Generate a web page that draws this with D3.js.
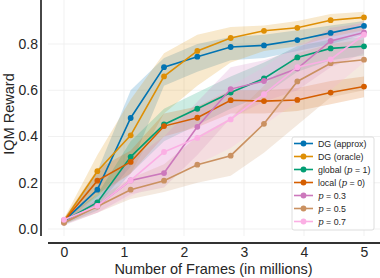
<!DOCTYPE html>
<html><head><meta charset="utf-8">
<script src="https://cdn.jsdelivr.net/npm/d3@7"></script>
<style>body{margin:0;background:#fff}svg{display:block}text{font-family:"Liberation Sans",Arial,sans-serif;fill:#262626}</style>
</head><body><svg id="c" width="380" height="278"></svg>
<script>
const frames = [0, 0.556, 1.111, 1.667, 2.222, 2.778, 3.333, 3.889, 4.444, 5.0];
const xTicks = [0, 1, 2, 3, 4, 5];
const yTicks = [0.0, 0.2, 0.4, 0.6, 0.8];
const names = ["DG (approx)", "DG (oracle)", "global", "local", "p03", "p05", "p07"];
const colors = ["#0173b2", "#de8f05", "#029e73", "#d55e00", "#cc78bc", "#ca9161", "#fbafe4"];
const dgApprox = [0.035, 0.17, 0.48, 0.70, 0.745, 0.787, 0.794, 0.817, 0.848, 0.878];
const dgOracle = [0.035, 0.25, 0.405, 0.66, 0.77, 0.826, 0.857, 0.87, 0.903, 0.915];
const globalP1 = [0.035, 0.115, 0.312, 0.452, 0.52, 0.59, 0.651, 0.742, 0.781, 0.79];
const localP0 = [0.035, 0.209, 0.29, 0.445, 0.481, 0.557, 0.553, 0.558, 0.59, 0.616];
const p03 = [0.028, 0.10, 0.21, 0.242, 0.442, 0.605, 0.64, 0.694, 0.813, 0.85];
const p05 = [0.027, 0.097, 0.17, 0.209, 0.278, 0.317, 0.455, 0.638, 0.717, 0.732];
const p07 = [0.04, 0.10, 0.21, 0.333, 0.394, 0.474, 0.583, 0.70, 0.733, 0.84];
const dgApproxLo = [0.02, 0.10, 0.27, 0.62, 0.68, 0.73, 0.74, 0.77, 0.80, 0.84];
const dgApproxHi = [0.045, 0.25, 0.60, 0.74, 0.80, 0.83, 0.84, 0.86, 0.88, 0.90];
const dgOracleLo = [0.02, 0.14, 0.24, 0.50, 0.62, 0.72, 0.77, 0.79, 0.83, 0.86];
const dgOracleHi = [0.045, 0.32, 0.56, 0.76, 0.84, 0.873, 0.88, 0.90, 0.93, 0.94];
const globalLo = [0.02, 0.08, 0.24, 0.38, 0.45, 0.52, 0.58, 0.68, 0.73, 0.75];
const globalHi = [0.045, 0.15, 0.38, 0.52, 0.59, 0.66, 0.72, 0.79, 0.82, 0.83];
const localLo = [0.02, 0.15, 0.24, 0.40, 0.44, 0.50, 0.50, 0.51, 0.54, 0.57];
const localHi = [0.045, 0.26, 0.34, 0.50, 0.53, 0.60, 0.60, 0.61, 0.64, 0.66];
const p03Lo = [0.015, 0.07, 0.15, 0.18, 0.32, 0.48, 0.55, 0.60, 0.70, 0.76];
const p03Hi = [0.035, 0.13, 0.30, 0.40, 0.55, 0.70, 0.73, 0.78, 0.87, 0.89];
const p05Lo = [0.02, 0.07, 0.13, 0.16, 0.20, 0.23, 0.33, 0.45, 0.57, 0.60];
const p05Hi = [0.035, 0.13, 0.22, 0.28, 0.40, 0.48, 0.62, 0.76, 0.80, 0.82];
const p07Lo = [0.03, 0.07, 0.14, 0.22, 0.28, 0.35, 0.45, 0.55, 0.60, 0.72];
const p07Hi = [0.05, 0.14, 0.30, 0.46, 0.52, 0.62, 0.70, 0.80, 0.84, 0.90];

const series = [
  {mean: dgApprox, lo: dgApproxLo, hi: dgApproxHi},
  {mean: dgOracle, lo: dgOracleLo, hi: dgOracleHi},
  {mean: globalP1, lo: globalLo, hi: globalHi},
  {mean: localP0, lo: localLo, hi: localHi},
  {mean: p03, lo: p03Lo, hi: p03Hi},
  {mean: p05, lo: p05Lo, hi: p05Hi},
  {mean: p07, lo: p07Lo, hi: p07Hi}
];

const svg = d3.select("#c");
const x = d3.scaleLinear().domain([0, 5]).range([64, 364]);
const y = d3.scaleLinear().domain([0, 0.8]).range([229, 44]);
const xL = x.invert(48), xR = x.invert(380), yB = y.invert(236), yT = y.invert(0);

// grid
svg.append("g").selectAll("line").data(xTicks).join("line")
  .attr("x1", d => x(d)).attr("x2", d => x(d)).attr("y1", y(yT)).attr("y2", y(yB))
  .attr("stroke", "#ededed").attr("stroke-width", 0.8);
svg.append("g").selectAll("line").data(yTicks).join("line")
  .attr("x1", x(xL)).attr("x2", x(xR)).attr("y1", d => y(d)).attr("y2", d => y(d))
  .attr("stroke", "#ededed").attr("stroke-width", 0.8);

// bands
const area = d3.area().x((d, i) => x(frames[i])).y0(d => y(d[0])).y1(d => y(d[1]));
series.forEach((s, k) => {
  svg.append("path").datum(s.lo.map((v, i) => [v, s.hi[i]]))
    .attr("d", area).attr("fill", colors[k]).attr("fill-opacity", 0.2);
});
// lines
const line = d3.line().x((d, i) => x(frames[i])).y(d => y(d));
series.forEach((s, k) => {
  svg.append("path").datum(s.mean).attr("d", line).attr("fill", "none")
    .attr("stroke", colors[k]).attr("stroke-width", 1.6);
  svg.append("g").selectAll("circle").data(s.mean).join("circle")
    .attr("cx", (d, i) => x(frames[i])).attr("cy", d => y(d)).attr("r", 2.9)
    .attr("fill", colors[k]);
});

// axes (spines)
const xAxis = d3.axisBottom(x).tickValues(xTicks).tickFormat(d3.format("d")).tickSize(0).tickPadding(4);
const gx = svg.append("g").attr("transform", "translate(0,243)").call(xAxis);
gx.select(".domain").attr("d", `M${x(xL)},0H${x(xR)}`).attr("stroke", "#333").attr("stroke-width", 1.8);
gx.selectAll("text").attr("font-size", 14).attr("fill", "#262626").attr("font-family", "Liberation Sans, Arial, sans-serif");
const yAxis = d3.axisLeft(y).tickValues(yTicks).tickFormat(d3.format(".1f")).tickSize(0).tickPadding(3);
const gy = svg.append("g").attr("transform", "translate(41,0)").call(yAxis);
gy.select(".domain").attr("d", `M0,${y(yT)}V${y(yB)}`).attr("stroke", "#333").attr("stroke-width", 1.8);
gy.selectAll("text").attr("font-size", 14).attr("fill", "#262626").attr("font-family", "Liberation Sans, Arial, sans-serif");

svg.append("text").attr("x", 213.5).attr("y", 273.5).attr("text-anchor", "middle").attr("font-size", 14.5)
  .text("Number of Frames (in millions)");
svg.append("text").attr("transform", "translate(13.5,114) rotate(-90)").attr("text-anchor", "middle").attr("font-size", 14.5)
  .text("IQM Reward");

// legend
const lg = svg.append("g").attr("transform", "translate(292,137)");
lg.append("rect").attr("width", 82).attr("height", 93).attr("rx", 2).attr("fill", "#fff").attr("fill-opacity", 0.85)
  .attr("stroke", "#d6d6d6").attr("stroke-width", 0.8);
const labels = [
  [["DG (approx)", false]],
  [["DG (oracle)", false]],
  [["global (", false], ["p", true], [" = 1)", false]],
  [["local (", false], ["p", true], [" = 0)", false]],
  [["p", true], [" = 0.3", false]],
  [["p", true], [" = 0.5", false]],
  [["p", true], [" = 0.7", false]]
];
names.forEach((n, k) => {
  const yy = 6.5 + k * 13;
  lg.append("line").attr("x1", 2).attr("x2", 21).attr("y1", yy).attr("y2", yy).attr("stroke", colors[k]).attr("stroke-width", 1.6);
  lg.append("circle").attr("cx", 11.5).attr("cy", yy).attr("r", 2.9).attr("fill", colors[k]);
  const t = lg.append("text").attr("x", 26).attr("y", yy + 3).attr("font-size", 8.8).attr("fill", "#333");
  labels[k].forEach(([s, it]) => {
    const ts = t.append("tspan").text(s);
    if (it) ts.attr("font-style", "italic").attr("font-family", "DejaVu Serif, serif");
  });
});
</script></body></html>
